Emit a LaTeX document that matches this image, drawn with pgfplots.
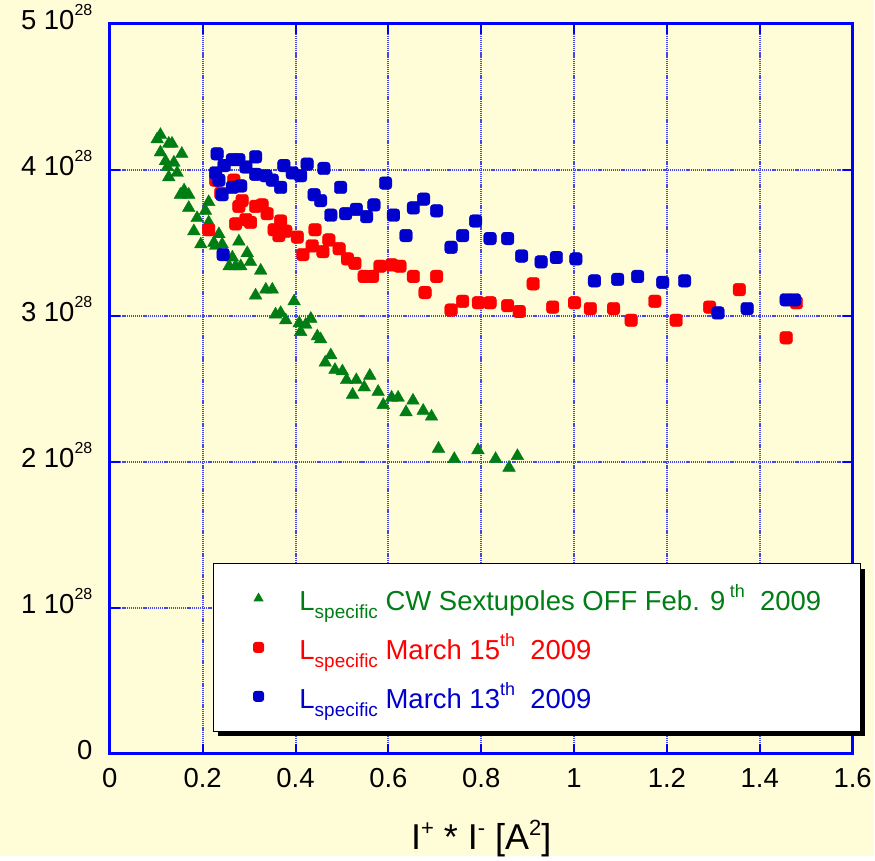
\documentclass[border=0pt]{standalone}
\usepackage{fontspec}
\setmainfont{Liberation Sans}
\usepackage{pgfplots}
\pgfplotsset{compat=1.18}
\usetikzlibrary{shadows}
\definecolor{cream}{RGB}{255,253,215}
\definecolor{mgreen}{RGB}{0,125,20}
\definecolor{mred}{RGB}{255,0,0}
\definecolor{mblue}{RGB}{0,0,205}
\definecolor{gridblue}{RGB}{70,70,240}
\newcommand{\tensup}[1]{#1 10\raisebox{14pt}{\fontsize{16}{16}\selectfont 28}}
\newcommand{\Lsp}{L\raisebox{-8pt}{\fontsize{19}{19}\selectfont specific}}
\newcommand{\sups}[1]{\raisebox{13pt}{\fontsize{18}{18}\selectfont #1}}
\newcommand{\xsup}[1]{\raisebox{14pt}{\fontsize{22}{22}\selectfont #1}}
% rounded square mark
\pgfdeclareplotmark{rsq}{%
  \pgfpathmoveto{\pgfpoint{-0.5\pgfplotmarksize}{-\pgfplotmarksize}}%
  \pgfpathlineto{\pgfpoint{0.5\pgfplotmarksize}{-\pgfplotmarksize}}%
  \pgfpathcurveto{\pgfpoint{0.775\pgfplotmarksize}{-\pgfplotmarksize}}{\pgfpoint{\pgfplotmarksize}{-0.775\pgfplotmarksize}}{\pgfpoint{\pgfplotmarksize}{-0.5\pgfplotmarksize}}%
  \pgfpathlineto{\pgfpoint{\pgfplotmarksize}{0.5\pgfplotmarksize}}%
  \pgfpathcurveto{\pgfpoint{\pgfplotmarksize}{0.775\pgfplotmarksize}}{\pgfpoint{0.775\pgfplotmarksize}{\pgfplotmarksize}}{\pgfpoint{0.5\pgfplotmarksize}{\pgfplotmarksize}}%
  \pgfpathlineto{\pgfpoint{-0.5\pgfplotmarksize}{\pgfplotmarksize}}%
  \pgfpathcurveto{\pgfpoint{-0.775\pgfplotmarksize}{\pgfplotmarksize}}{\pgfpoint{-\pgfplotmarksize}{0.775\pgfplotmarksize}}{\pgfpoint{-\pgfplotmarksize}{0.5\pgfplotmarksize}}%
  \pgfpathlineto{\pgfpoint{-\pgfplotmarksize}{-0.5\pgfplotmarksize}}%
  \pgfpathcurveto{\pgfpoint{-\pgfplotmarksize}{-0.775\pgfplotmarksize}}{\pgfpoint{-0.775\pgfplotmarksize}{-\pgfplotmarksize}}{\pgfpoint{-0.5\pgfplotmarksize}{-\pgfplotmarksize}}%
  \pgfpathclose
  \pgfusepathqfillstroke}

\begin{document}
\begin{tikzpicture}
\fill[cream] (-110pt,-102pt) rectangle (765pt,755pt);
\begin{axis}[
  at={(0,0)}, anchor=south west,
  scale only axis, width=744pt, height=731pt,
  xmin=0, xmax=1.6, ymin=0, ymax=5,
  xtick={0,0.2,0.4,0.6,0.8,1,1.2,1.4,1.6},
  ytick={0,1,2,3,4,5},
  yticklabels={0,\tensup{1},\tensup{2},\tensup{3},\tensup{4},\tensup{5}},
  /pgf/number format/assume math mode=true,
  tick label style={font=\fontsize{27.5}{30}\selectfont},
  yticklabel style={anchor=base east, xshift=-14pt, yshift=-6pt},
  xticklabel style={yshift=-11pt},
  xlabel={I\xsup{+} * I\xsup{-} [A\xsup{2}]},
  xlabel style={font=\fontsize{36}{40}\selectfont, at={(axis description cs:0.5,0)}, anchor=base, yshift=-96pt},
  grid=major,
  major grid style={gridblue, line width=2pt, dash pattern=on 1.2pt off 0.9pt},
  axis line style={blue, line width=3pt},
  tick style={blue, line width=2pt},
  tick align=inside, major tick length=10pt,
  legend style={
    at={(0.1384,0.0301)}, anchor=south west,
    draw=black, line width=1pt, fill=white,
    drop shadow={shadow xshift=5pt, shadow yshift=-5pt, fill=black, opacity=1},
    inner xsep=37pt, inner ysep=14pt,
    row sep=7pt,
    font=\fontsize{27.5}{32}\selectfont,
    nodes={inner sep=2pt, text height=31pt, text depth=7pt},
    /tikz/every odd column/.append style={column sep=34pt},
  },
  legend cell align=left,
  legend image code/.code={\path (-8pt,0pt); \draw[#1, mark size=5pt] plot coordinates {(0pt,0pt)};},
]
\addplot[only marks, mark=triangle*, mark size=7.3pt, color=mgreen] coordinates {
(0.109,4.24) (0.102,4.21) (0.127,4.18) (0.134,4.18) (0.109,4.12) (0.155,4.11)
(0.120,4.06) (0.138,4.05) (0.124,4.02) (0.145,3.98) (0.127,3.95) (0.160,3.86)
(0.152,3.83) (0.170,3.83) (0.170,3.74) (0.213,3.78) (0.188,3.67) (0.206,3.72)
(0.181,3.58) (0.213,3.64) (0.196,3.49) (0.235,3.56) (0.224,3.50) (0.242,3.49)
(0.278,3.51) (0.228,3.48) (0.264,3.40) (0.296,3.43) (0.257,3.34) (0.271,3.34)
(0.282,3.34) (0.303,3.37) (0.325,3.31) (0.314,3.14) (0.336,3.18) (0.350,3.18)
(0.397,3.10) (0.357,3.01) (0.368,3.02) (0.379,2.97) (0.408,2.95) (0.422,2.94)
(0.433,2.98) (0.411,2.89) (0.447,2.86) (0.454,2.84) (0.476,2.73) (0.464,2.68)
(0.485,2.63) (0.501,2.62) (0.510,2.56) (0.531,2.56) (0.560,2.59) (0.548,2.51)
(0.523,2.46) (0.578,2.48) (0.589,2.39) (0.607,2.44) (0.621,2.44) (0.653,2.42)
(0.638,2.34) (0.675,2.35) (0.693,2.31) (0.708,2.09) (0.742,2.02) (0.793,2.08)
(0.831,2.02) (0.860,1.96) (0.878,2.04)
};
\addlegendentry{\textcolor{mgreen}{\Lsp\ CW Sextupoles OFF Feb. 9\,\sups{th}\ \ 2009}}
\addplot[only marks, mark=rsq, mark size=6.3pt, color=mred] coordinates {
(0.228,3.93) (0.239,3.84) (0.267,3.93) (0.285,3.79) (0.278,3.75) (0.314,3.75)
(0.328,3.76) (0.339,3.70) (0.271,3.63) (0.293,3.66) (0.303,3.64) (0.368,3.65)
(0.354,3.59) (0.379,3.58) (0.404,3.54) (0.442,3.59) (0.364,3.55) (0.213,3.59)
(0.436,3.48) (0.472,3.52) (0.459,3.44) (0.494,3.46) (0.416,3.42) (0.512,3.39)
(0.528,3.36) (0.548,3.27) (0.566,3.27) (0.582,3.34) (0.607,3.35) (0.625,3.34)
(0.654,3.27) (0.679,3.16) (0.704,3.27) (0.735,3.04) (0.760,3.10) (0.794,3.09)
(0.819,3.09) (0.857,3.07) (0.882,3.03) (0.912,3.22) (0.954,3.06) (1.001,3.09)
(1.035,3.05) (1.085,3.05) (1.123,2.97) (1.174,3.10) (1.220,2.97) (1.292,3.06)
(1.356,3.18) (1.479,3.09) (1.457,2.85)
};
\addlegendentry{\textcolor{mred}{\Lsp\ March 15\sups{th}\ \ 2009}}
\addplot[only marks, mark=rsq, mark size=6.3pt, color=mblue] coordinates {
(0.231,4.11) (0.264,4.07) (0.278,4.07) (0.314,4.09) (0.293,4.02) (0.228,3.98)
(0.246,4.03) (0.314,3.97) (0.336,3.96) (0.375,4.03) (0.393,3.98) (0.425,4.04)
(0.411,3.96) (0.461,4.01) (0.350,3.93) (0.368,3.88) (0.235,3.93) (0.264,3.88)
(0.282,3.89) (0.242,3.83) (0.497,3.88) (0.440,3.83) (0.454,3.79) (0.476,3.69)
(0.508,3.70) (0.244,3.42) (0.531,3.73) (0.553,3.68) (0.569,3.76) (0.594,3.91)
(0.611,3.69) (0.638,3.55) (0.654,3.74) (0.676,3.80) (0.704,3.72) (0.735,3.47)
(0.760,3.55) (0.788,3.65) (0.819,3.53) (0.857,3.53) (0.887,3.41) (0.929,3.37)
(0.962,3.40) (1.004,3.39) (1.044,3.24) (1.094,3.25) (1.137,3.27) (1.191,3.23)
(1.238,3.24) (1.310,3.02) (1.373,3.05) (1.457,3.11) (1.475,3.11)
};
\addlegendentry{\textcolor{mblue}{\Lsp\ March 13\sups{th}\ \ 2009}}
\end{axis}
\end{tikzpicture}
\end{document}
